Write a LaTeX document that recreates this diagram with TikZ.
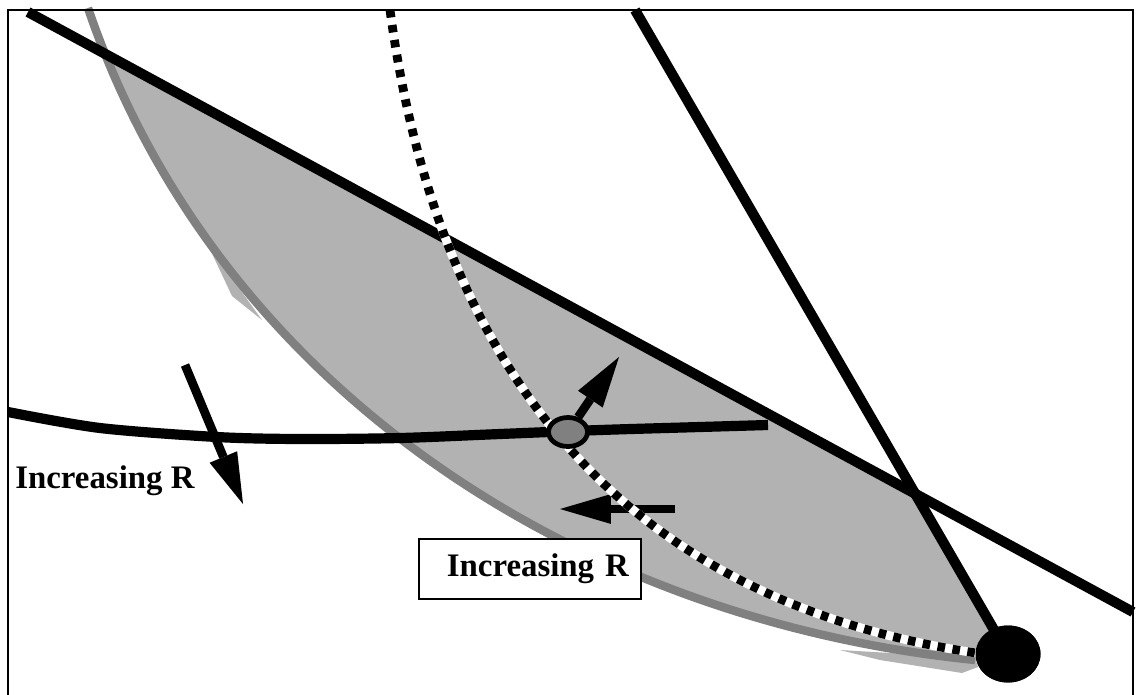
\documentclass[tikz,border=0pt]{standalone}
\usepackage{fontspec}
\setmainfont{Liberation Serif}
\usetikzlibrary{arrows.meta,shapes.geometric}

\begin{document}
\begin{tikzpicture}[
  x=0.02cm, y=-0.02cm,
  every node/.style={inner sep=1pt},
  frm/.style={draw=black, line width=1.5pt},
  lim/.style={draw=black, line width=5.8pt},
  ctr/.style={draw=black, line width=5.8pt},
  gcurve/.style={draw=black!50, line width=4.8pt},
  lens/.style={fill=black!30},
  dashw/.style={draw=white, line width=5pt},
  dashk/.style={draw=black, line width=5pt, dash pattern=on 4.3pt off 4.3pt},
  arr/.style={-{Triangle[length=29pt,width=17pt,line width=0pt]}, draw=black, line width=5pt},
  pt/.style={ellipse, draw=black, fill=black!50, line width=2.7pt,
             minimum width=0.78cm, minimum height=0.58cm, inner sep=0pt},
  bigpt/.style={ellipse, fill=black, minimum width=1.3cm, minimum height=1.14cm, inner sep=0pt},
  lbl/.style={font=\bfseries\fontsize{18.7}{22}\selectfont, inner sep=0pt},
  lblbox/.style={lbl, draw=black, fill=white, line width=1pt, text width=3.96cm,
                 align=right, inner xsep=0.24cm, minimum height=1.2cm},
]
  \useasboundingbox (0,0) rectangle (1136,694);
  \coordinate (l1a) at (28,12);
  \coordinate (l1b) at (1133,612);
  \coordinate (l2a) at (635,10);
  \coordinate (cross) at (915,494);
  \node[bigpt] (sink) at (1008,654) {};
  % shaded region
  \begin{scope}
    \clip (0,-3) -- (cross) -- (sink.center) -- (1040,710) -- (0,710) -- cycle;
    \fill[lens] (88,8) .. controls (212,373) and (560,618) .. (975,660)
      -- (sink.center) -- (1136,660) -- (1136,0) -- cycle;
    \fill[lens] (208,245) -- (232,296) -- (262,320) -- cycle;
    \fill[lens] (840,650) -- (880,660) -- (962,673) -- (978,667) -- (975,658) -- cycle;
  \end{scope}
  \draw[gcurve] (88,8) .. controls (212,373) and (560,618) .. (975,660);
  \draw[lim] (l1a) -- (l1b);
  \draw[lim] (l2a) -- (sink.center);
  \draw[ctr] plot[smooth] coordinates {(8,412) (100,428) (217,437) (300,439) (400,438)
    (500,434) (600,430) (700,427) (768,425)};
  % arrows
  \coordinate (dnA) at (185,365);
  \coordinate (dnB) at (243,504);
  \coordinate (lfA) at (675,509);
  \coordinate (lfB) at (560,509);
  \coordinate (upB) at (619,357);
  \draw[arr] (dnA) -- (dnB);
  \draw[arr] (lfA) -- (lfB);
  % dashed curve
  \draw[dashw] (390,10) .. controls (435,345) and (600,602) .. (990,655);
  \draw[dashk] (390,10) .. controls (435,345) and (600,602) .. (990,655);
  \node[bigpt] at (sink) {};
  \node[pt] (eq) at (568,432) {};
  \draw[arr] (eq) -- (upB);
  % labels
  \node[lbl, anchor=base west] (lblL) at (15,488) {Increasing R};
  \node[lblbox, anchor=north west] (lblB) at (418,538) {Increasing R};
  \draw[frm] (8,720) -- (8,10) -- (1133,10) -- (1133,720);
\end{tikzpicture}
\end{document}
